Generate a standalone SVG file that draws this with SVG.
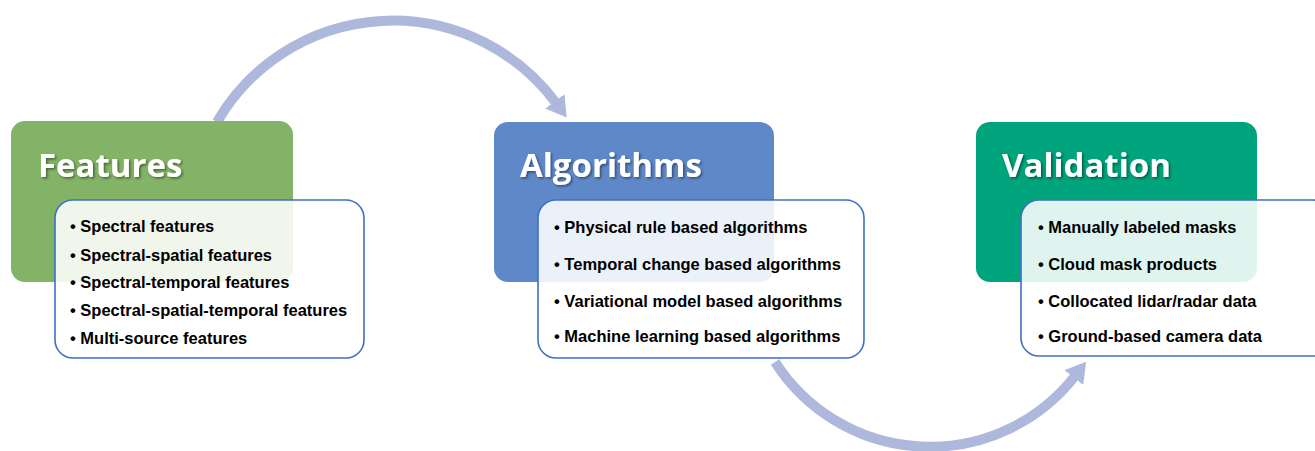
<svg xmlns="http://www.w3.org/2000/svg" width="1315" height="451" viewBox="0 0 1315 451">
<style>
.head{font-family:"Open Sans","Liberation Sans",sans-serif;font-weight:700;font-size:33px;fill:#fff;filter:url(#sh)}
.list{fill:#fff;fill-opacity:0.88;stroke:#3F6FC6;stroke-width:1.6}
.item{font-family:"Liberation Sans",Arial,sans-serif;font-weight:700;font-size:16.5px;fill:#000}
.conn{fill:none;stroke:#AEB8DC;stroke-width:10}
</style>
<defs>
<filter id="sh" x="-10%" y="-20%" width="130%" height="150%">
<feDropShadow dx="1.5" dy="1.5" stdDeviation="1" flood-color="#000" flood-opacity="0.45"/>
</filter>
<marker id="ah" markerUnits="userSpaceOnUse" markerWidth="30" markerHeight="30" refX="2" refY="14" orient="auto">
<path d="M0,2 L20,14 L0,26 Z" fill="#AEB8DC"/>
</marker>
</defs>
<rect width="1315" height="451" fill="#fff"/>
<g id="connectors">
<path class="conn" d="M217,122 A203,203 0 0 1 556,103" marker-end="url(#ah)"/>
<path class="conn" d="M775,362 A184,184 0 0 0 1075,376" marker-end="url(#ah)"/>
</g>
<g id="features">
<rect x="11" y="121" width="282" height="161" rx="14" fill="#82B366"/>
<text class="head" x="38" y="177">Features</text>
<rect class="list" x="55" y="200" width="309" height="158" rx="18"/>
<text class="item" x="70" y="232">• Spectral features</text>
<text class="item" x="70" y="261">• Spectral-spatial features</text>
<text class="item" x="70" y="288">• Spectral-temporal features</text>
<text class="item" x="70" y="316">• Spectral-spatial-temporal features</text>
<text class="item" x="70" y="344">• Multi-source features</text>
</g>
<g id="algorithms">
<rect x="494" y="122" width="280" height="160" rx="14" fill="#5F88C8"/>
<text class="head" x="520" y="177">Algorithms</text>
<rect class="list" x="538" y="200" width="326" height="158" rx="18"/>
<text class="item" x="554" y="233">• Physical rule based algorithms</text>
<text class="item" x="554" y="270">• Temporal change based algorithms</text>
<text class="item" x="554" y="307">• Variational model based algorithms</text>
<text class="item" x="554" y="342">• Machine learning based algorithms</text>
</g>
<g id="validation">
<rect x="976" y="122" width="281" height="160" rx="14" fill="#00A47C"/>
<text class="head" x="1002" y="177">Validation</text>
<rect class="list" x="1021" y="200" width="310" height="156" rx="18"/>
<text class="item" x="1038" y="233">• Manually labeled masks</text>
<text class="item" x="1038" y="270">• Cloud mask products</text>
<text class="item" x="1038" y="307">• Collocated lidar/radar data</text>
<text class="item" x="1038" y="342">• Ground-based camera data</text>
</g>
</svg>
